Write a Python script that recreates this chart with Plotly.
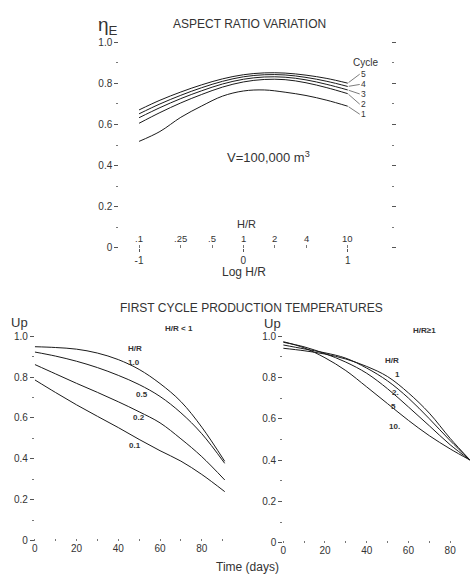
import math
import plotly.graph_objects as go

# ---------------- data ----------------
# Top chart: efficiency vs log H/R for cycles 1..5
log_hr = [-1.0, -0.8, -0.6, -0.4, -0.2, 0.0, 0.2, 0.4, 0.6, 0.8, 1.0]
eta_cycle1 = [0.518, 0.566, 0.635, 0.690, 0.738, 0.763, 0.768, 0.757, 0.741, 0.718, 0.689]
eta_cycle2 = [0.606, 0.658, 0.705, 0.746, 0.782, 0.807, 0.819, 0.818, 0.803, 0.779, 0.750]
eta_cycle3 = [0.633, 0.682, 0.726, 0.764, 0.797, 0.820, 0.831, 0.830, 0.817, 0.795, 0.768]
eta_cycle4 = [0.652, 0.700, 0.742, 0.779, 0.810, 0.832, 0.842, 0.841, 0.829, 0.810, 0.785]
eta_cycle5 = [0.671, 0.718, 0.758, 0.793, 0.822, 0.842, 0.851, 0.850, 0.840, 0.824, 0.801]
cycle_names = ["1", "2", "3", "4", "5"]

hr_tick_values = [0.1, 0.25, 0.5, 1, 2, 4, 10]
hr_tick_text = [".1", ".25", ".5", "1", "2", "4", "10"]
log_tick_values = [-1, 0, 1]
log_tick_text = ["-1", "0", "1"]
y_tick_values = [0, 0.2, 0.4, 0.6, 0.8, 1.0]
y_tick_text = ["0", "0.2", "0.4", "0.6", "0.8", "1.0"]
day_ticks = [0, 20, 40, 60, 80]

# Bottom-left: H/R < 1
days_left = [0, 10, 20, 30, 40, 50, 60, 70, 80, 91]
up_hr_1_0 = [0.948, 0.944, 0.936, 0.917, 0.885, 0.837, 0.768, 0.680, 0.555, 0.388]
up_hr_0_5 = [0.922, 0.902, 0.877, 0.846, 0.808, 0.763, 0.705, 0.625, 0.523, 0.378]
up_hr_0_2 = [0.861, 0.815, 0.769, 0.725, 0.679, 0.630, 0.576, 0.498, 0.411, 0.297]
up_hr_0_1 = [0.786, 0.724, 0.664, 0.608, 0.553, 0.495, 0.440, 0.389, 0.324, 0.240]
left_names = ["1.0", "0.5", "0.2", "0.1"]

# Bottom-right: H/R >= 1
days_right = [0, 10, 20, 30, 40, 50, 60, 70, 80, 89.5]
up_hr_1 = [0.941, 0.929, 0.913, 0.889, 0.853, 0.804, 0.725, 0.627, 0.505, 0.400]
up_hr_2 = [0.957, 0.938, 0.919, 0.893, 0.845, 0.783, 0.700, 0.600, 0.494, 0.400]
up_hr_5 = [0.970, 0.948, 0.915, 0.874, 0.820, 0.745, 0.657, 0.566, 0.474, 0.400]
up_hr_10 = [0.973, 0.943, 0.895, 0.833, 0.754, 0.673, 0.592, 0.518, 0.454, 0.400]
right_names = ["1", "2.", "5", "10."]

# ---------------- styling ----------------
W, H = 470, 583
INK = "#1a1a1a"
TXT = "#333333"
FONT = "Liberation Sans"
LW = 1.0


def px_x(p):
    return p / W


def px_y(p):
    return (H - p) / H


fig = go.Figure()

top_series = [eta_cycle1, eta_cycle2, eta_cycle3, eta_cycle4, eta_cycle5]
for name, ys in zip(cycle_names, top_series):
    fig.add_trace(go.Scatter(x=log_hr, y=ys, mode="lines", name="Cycle " + name,
                             line=dict(color=INK, width=LW, shape="spline", smoothing=1.0),
                             xaxis="x", yaxis="y", showlegend=False, hoverinfo="skip"))

left_series = [up_hr_1_0, up_hr_0_5, up_hr_0_2, up_hr_0_1]
for name, ys in zip(left_names, left_series):
    fig.add_trace(go.Scatter(x=days_left, y=ys, mode="lines", name="H/R " + name,
                             line=dict(color=INK, width=LW, shape="spline", smoothing=1.0),
                             xaxis="x2", yaxis="y2", showlegend=False, hoverinfo="skip"))

right_series = [up_hr_1, up_hr_2, up_hr_5, up_hr_10]
for name, ys in zip(right_names, right_series):
    fig.add_trace(go.Scatter(x=days_right, y=ys, mode="lines", name="H/R " + name,
                             line=dict(color=INK, width=LW, shape="spline", smoothing=1.0),
                             xaxis="x3", yaxis="y3", showlegend=False, hoverinfo="skip"))

tickfont = dict(family=FONT, size=10, color=TXT)

yax_common = dict(range=[0, 1], tickvals=y_tick_values, ticktext=y_tick_text,
                  ticks="outside", ticklen=4, tickcolor="#555", tickwidth=1,
                  showgrid=False, zeroline=False, showline=False, tickfont=tickfont,
                  minor=dict(dtick=0.1, ticks="outside", ticklen=2, tickcolor="#777"))

fig.update_layout(
    width=W, height=H,
    margin=dict(l=0, r=0, t=0, b=0),
    paper_bgcolor="white", plot_bgcolor="white",
    font=dict(family=FONT, color=TXT),
    xaxis=dict(domain=[px_x(117), px_x(390)], range=[-1.19, 1.41],
               tickvals=log_tick_values, ticktext=log_tick_text,
               ticks="outside", ticklen=3, tickcolor="#555",
               showgrid=False, zeroline=False, showline=False, tickfont=tickfont,
               minor=dict(tickvals=[math.log10(v) for v in hr_tick_values],
                          ticks="inside", ticklen=3, tickcolor="#777"),
               anchor="y"),
    yaxis=dict(domain=[px_y(247), px_y(37)], anchor="x", mirror="ticks", **yax_common),
    xaxis2=dict(domain=[px_x(32), px_x(224)], range=[0, 91.4], tickvals=day_ticks,
                ticks="", showgrid=False, zeroline=False, showline=False, tickfont=tickfont,
                minor=dict(dtick=10, ticks="inside", ticklen=2, tickcolor="#777"),
                anchor="y2"),
    yaxis2=dict(domain=[px_y(546), px_y(337)], anchor="x2", **yax_common),
    xaxis3=dict(domain=[px_x(282), 1.0], range=[0, 89.5], tickvals=day_ticks,
                ticks="", showgrid=False, zeroline=False, showline=False, tickfont=tickfont,
                minor=dict(dtick=10, ticks="inside", ticklen=2, tickcolor="#777"),
                anchor="y3"),
    yaxis3=dict(domain=[px_y(548), px_y(337)], anchor="x3", **yax_common),
)

ann = []


def paper_text(text, x, y, size, bold=False):
    if bold:
        text = "<b>" + text + "</b>"
    return dict(text=text, xref="paper", yref="paper", x=px_x(x), y=px_y(y),
                xanchor="center", yanchor="middle", showarrow=False,
                font=dict(family=FONT, size=size, color=TXT))


def data_text(text, xr, yr, x, y, size, bold=False):
    if bold:
        text = "<b>" + text + "</b>"
    return dict(text=text, xref=xr, yref=yr, x=x, y=y,
                xanchor="center", yanchor="middle", showarrow=False,
                font=dict(family=FONT, size=size, color=TXT))


# ---- top chart texts
ann.append(paper_text("η<sub>E</sub>", 106, 20, 19))
ann.append(paper_text("ASPECT RATIO VARIATION", 248, 18, 12))
ann.append(data_text("Cycle", "x", "y", 1.17, 0.902, 10))
cycle_label_offsets = [8, 10.5, 4, -2, -9]
for name, ys, dy in zip(cycle_names, top_series, cycle_label_offsets):
    ann.append(dict(text=name, xref="x", yref="y", x=log_hr[-1], y=ys[-1],
                    xanchor="left", yanchor="middle", borderpad=0,
                    showarrow=True, arrowhead=0, arrowwidth=0.7, arrowcolor="#444",
                    ax=12, ay=dy, standoff=1,
                    font=dict(family=FONT, size=8.5, color=TXT)))
ann.append(data_text("V=100,000 m<sup>3</sup>", "x", "y", 0.24, 0.443, 13))
ann.append(data_text("H/R", "x", "y", 0.03, 0.114, 11))
for v, t in zip(hr_tick_values, hr_tick_text):
    ann.append(data_text(t, "x", "y", math.log10(v), 0.045, 9.5))
ann.append(paper_text("Log H/R", 243, 272, 12))

# ---- bottom texts
ann.append(paper_text("FIRST CYCLE PRODUCTION TEMPERATURES", 250, 308, 12))
ann.append(paper_text("Up", 17, 323, 13))
ann.append(paper_text("Up", 271, 324, 13))
ann.append(paper_text("H/R < 1", 177, 329, 8, bold=True))
ann.append(paper_text("H/R≥1", 424, 331, 8, bold=True))
ann.append(paper_text("Time (days)", 246, 573, 12))

# left curve labels
ann.append(data_text("H/R", "x2", "y2", 48.1, 0.938, 8, bold=True))
left_label_pos = [(47.5, 0.869), (51.4, 0.714), (49.9, 0.600), (48.2, 0.467)]
for name, (lx, ly) in zip(left_names, left_label_pos):
    ann.append(data_text(name, "x2", "y2", lx, ly, 8, bold=True))

# right curve labels
ann.append(data_text("H/R", "x3", "y3", 52.2, 0.88, 8, bold=True))
right_label_pos = [(54.8, 0.812), (53.8, 0.725), (53.0, 0.659), (53.5, 0.562)]
for name, (lx, ly) in zip(right_names, right_label_pos):
    ann.append(data_text(name, "x3", "y3", lx, ly, 8, bold=True))

fig.update_layout(annotations=ann)

fig.write_html("out.html", config={"displayModeBar": False},
               post_script="document.body.style.margin='0';document.body.style.overflow='hidden';")
